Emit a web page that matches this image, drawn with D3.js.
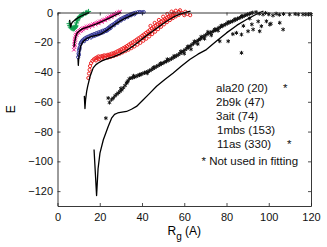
<!DOCTYPE html>
<html>
<head>
<meta charset="utf-8">
<script src="https://cdn.jsdelivr.net/npm/d3@7"></script>
<style>
  html, body { margin: 0; padding: 0; background: #fff; }
  svg { display: block; font-family: "Liberation Sans", Arial, sans-serif; }
</style>
</head>
<body>
<div id="chart"></div>
<script>
// [Rg, E] pairs

const ala20Pts = [[5.5,-7.5],[5.8,-8.8],[6.1,-9.8],[6.5,-10.4],[7.0,-10.8],[7.5,-11.0],[8.0,-10.8],[8.4,-10.0],
  [8.7,-8.6],[9.0,-7.0],[9.3,-5.6],[9.7,-4.2],[10.2,-3.2],[10.8,-2.4],[11.5,-1.7],[12.3,-1.1],[13.2,-0.4],
  [14.0,0.1],[14.7,0.7],[6.8,-10.2],[7.8,-10.2],[8.6,-9.4],[9.5,-5.0],[10.5,-2.9],[11.9,-1.5],[13.6,-0.2]];
const ala20Fit = [[5.7,-5.0],[6.0,-7.5],[6.25,-9.8],[6.5,-8.0],[7.0,-6.6],[8.0,-5.3],[9.5,-3.8],[11,-2.5],[13,-1.2],[15,0]];

const b9kPts = [[7.8,-25],[7.9,-23],[8.0,-21],[8.1,-19.5],[8.3,-17.5],[8.5,-16],[8.8,-14.8],[9.2,-13.8],[9.7,-13],
  [10.3,-12.2],[11,-11.6],[11.6,-11],[12.3,-10.5],[13,-10.2],[13.7,-9.6],[14.5,-9.3],[15.3,-8.8],[16.1,-8.5],
  [16.9,-7.9],[17.7,-7.6],[18.5,-7.0],[19.3,-6.6],[20.1,-6.0],[20.9,-5.7],[21.7,-5.1],[22.5,-4.6],[23.3,-3.9],
  [24.1,-3.3],[24.9,-2.6],[25.7,-2.0],[26.5,-1.4],[27.3,-0.8],[28.1,-0.3],[28.9,0.1],[29.6,0.5],
  [10.8,-12.5],[12,-11.4],[13.5,-10.6],[15,-9.8],[16.5,-9],[18,-8.1],[19.5,-7.3],[21,-6.3],[22.5,-5.3],
  [24,-4.2],[25.5,-3],[27,-1.8],[28.5,-0.8],[8.2,-22],[8.4,-18.5],[9,-15],[9.9,-13.6],[11.3,-12]];
const b9kFit = [[7.8,-23],[8.1,-20],[8.6,-16.5],[9.3,-13.8],[10.6,-12],[12,-10.8],[13.8,-10],[16,-8.9],
  [18.5,-7.6],[21.5,-5.7],[24.8,-3.6],[27.5,-1.7],[30,0]];

const aitPts = [[9.8,-30],[10.0,-27.5],[10.2,-25.5],[10.5,-23.5],[10.8,-21.5],[11.2,-20],[11.7,-19],[12.3,-18.2],
  [13,-17.4],[13.8,-16.7],[14.6,-16.2],[15.5,-15.6],[16.4,-15],[17.4,-14.5],[18.4,-13.9],[19.4,-13.4],
  [20.4,-12.9],[21.4,-12.3],[22.4,-11.8],[23.3,-11.2],[24.1,-10.3],[24.9,-9.4],[25.7,-8.6],[26.5,-7.9],
  [27.3,-7.1],[28.1,-6.2],[28.9,-5.4],[29.7,-4.6],[30.5,-4.0],[31.3,-3.4],[32.1,-2.9],[32.9,-2.4],[33.7,-1.8],
  [34.5,-1.3],[35.3,-0.9],[36.1,-0.5],[37,-0.2],[38,0.2],[39,0.3],[40,0.1],[40.8,0.3],
  [12.6,-19.3],[14,-17.8],[15.8,-16.8],[17.8,-15.5],[19.8,-14.4],[21.8,-13.2],[23.6,-12.0],[25.2,-10.3],
  [26.8,-8.6],[28.4,-7.0],[30,-5.4],[31.6,-4.2],[33.2,-3.1],[34.8,-1.9],[36.4,-1.2],
  [10.1,-28.5],[10.4,-24.5],[11,-20.8],[16.9,-15.9],[18.9,-14.9],[20.9,-13.7],[22.9,-12.4],[24.5,-11]];
const aitFit = [[9.7,-31],[9.85,-35.5],[10.1,-30],[10.5,-26],[11,-22.5],[11.9,-20],[13,-18.3],[14.5,-17],
  [16.2,-16.1],[18.5,-15.3],[20.5,-14.5],[22.5,-12.8],[24.8,-10.5],[27.2,-8],[29.6,-5.8],[32,-3.9],
  [34.3,-2.4],[36.5,-0.9],[38,0]];

const mbsPts = [[14.6,-44],[14.9,-41],[15.2,-38.5],[15.4,-36],[15.9,-34],[16.5,-32.5],[17.2,-31.5],[17.9,-30.8],
  [18.6,-30.2],[19.4,-29.5],[20.3,-29.6],[21.2,-29.2],[22.1,-28.8],[23.0,-28.9],[23.9,-28.4],[24.8,-28.2],
  [25.7,-27.6],[26.6,-27.3],[27.5,-26.7],[28.4,-26.0],[29.3,-25.4],[30.2,-24.7],[31.1,-24],[32,-23.3],
  [32.9,-22.5],[33.8,-21.6],[34.7,-20.8],[35.6,-20],[36.5,-19.2],[37.4,-18.3],[38.3,-17.4],[39.2,-16.6],
  [40.1,-15.6],[41,-14.7],[41.9,-13.7],[42.8,-12.8],[43.7,-11.8],[44.6,-10.8],[45.5,-9.8],[46.4,-8.8],
  [47.3,-7.9],[48.2,-7],[49.1,-6.1],[50,-5.2],[50.9,-4.4],[51.8,-3.6],[52.7,-2.8],[53.6,-2.1],[54.5,-1.5],
  [55.4,-0.8],
  [18.2,-32.2],[19.6,-31.4],[21,-31],[22.4,-30.6],[23.8,-30.3],[25.2,-29.8],[26.6,-29.2],[28,-28.5],
  [29.4,-27.7],[30.8,-26.8],[32.2,-25.9],[33.6,-25],[35,-23.9],[36.4,-22.8],[37.8,-21.6],[39.2,-20.4],
  [40.6,-19],[42,-17.6],[43.4,-16.1],[44.8,-14.5],[46.2,-12.9],[47.6,-11.2],[49,-9.6],[50.4,-8],[51.8,-6.5],
  [53.2,-5.1],[54.6,-3.8],[56,-2.6],[57.4,-1.6],
  [44,-9],[46,-7],[48,-5],[50,-2.8],[52,-1],[54,0.6],[56,1.2],[57.5,0.4],[59,-0.4],[60.5,0.5],[61.5,-1],
  [62.8,-1.8],[58,1.5],[55,-0.3],[60,-1.8],
  [19,-30.9],[21.6,-30.1],[24.3,-29.3],[27,-28],[29.8,-26.3],[32.6,-24.4],[35.3,-22.2],[38,-19.6],
  [40.8,-17.2],[43.5,-14.3],[46,-11.2],[48.6,-8.2],[51.2,-5.5],[53.8,-3.3]];
const mbsFit = [[12.7,-56],[13.0,-64.5],[13.3,-58.5],[13.8,-53],[14.3,-49.5],[15.4,-43],[16.9,-37.2],[18.2,-35],
  [19.3,-33.9],[21,-32.5],[22.5,-31.6],[24.5,-30.7],[26.4,-29.8],[29.5,-28],[32.7,-25.5],[36,-22.3],[39,-19],
  [42,-15.7],[45.3,-12.3],[48.5,-9],[51.6,-5.9],[55,-3],[58,-1.1],[61,0.2],[63,0.9]];

const asPts = [[22.9,-71],[24,-57.5],[24.6,-60.5],
  [25.6,-58.5],[26.4,-57.5],[27.2,-56],[28,-55],[28.8,-54],[29.6,-53],[30.4,-52],[31.2,-50.5],[32,-49],
  [32.7,-47.5],[33.4,-46],[34,-44.5],[34.8,-44],[35.6,-43.8],[36.4,-43.3],[37.2,-42.9],[38,-42.4],[38.8,-42],
  [39.6,-41.4],[40.4,-41],[41.2,-40.5],[42,-40.1],[42.8,-39.6],[43.6,-39.1],[44.4,-38.4],[45.2,-37.7],[46,-37],
  [46.8,-36.3],[47.6,-35.7],[48.4,-35.1],[49.2,-34.5],[50,-33.9],[50.8,-33.3],[51.6,-32.7],[52.4,-32.2],
  [53.2,-31.6],[54,-31],[54.8,-30.3],[55.6,-29.7],[56.4,-29],[57.2,-28.3],[58,-27.5],[58.8,-26.8],[59.6,-26],
  [60.4,-25],[61.2,-24.2],[62,-23.3],[62.8,-22.5],[63.6,-21.6],[64.4,-20.8],[65.2,-20],[66,-19.3],[66.8,-18.5],
  [67.6,-17.8],[68.4,-16.9],[69.2,-16.1],[70,-15.3],[70.8,-14.6],[71.6,-14],[72.4,-13.5],[73.2,-13],[74,-12.4],
  [74.8,-11.7],[75.6,-11],[76.4,-10.3],[77.2,-9.7],[78,-9.1],[78.8,-8.5],[79.6,-7.9],[80.4,-7.3],[81.2,-6.8],
  [82,-6.3],[82.8,-5.8],[83.6,-5.3],[84.4,-4.8],[85.2,-4.2],[86,-3.7],[86.8,-3.2],[87.6,-2.7],[88.4,-2.2],
  [89.2,-1.7],[90,-1.3],[90.8,-0.9],[91.6,-0.5],[92.4,-0.1],
  [30,-51],[33,-46.8],[36,-42.5],[39,-41.8],[42.5,-40.8],[45.5,-36.9],[48.8,-34.2],[52,-31.4],[55.2,-29.2],
  [58.4,-26.1],[61.6,-22.9],[64.8,-19.4],[68,-16.3],[71.2,-13],[74.4,-11.3],[77.6,-8.8],[80.8,-6.4],[84,-4.5],
  [87.2,-2.4],[60,-27.6],[63.2,-24.7],[66.4,-21.2],[69.6,-17.6],[72.8,-15.3],[76,-12.2],
  [94,0.3],[95.5,-0.8],[97.3,-1.3],[98.5,-0.3],[100,-1.2],[102,-2],[103.5,-0.8],[105,-1.5],[107,-1],
  [109.9,-1.3],[112.5,-1],[114,-1.3],[116.2,-1.3],[117.5,-1.3],[118.8,-1.3],[120,-1.3],
  [76.8,-19.3],[80.8,-19.3],[84.7,-13.7],[87.1,-14.8],[90.2,-12.6],[92.6,-11.4],[95.7,-12.6],[96.5,-9.2],
  [98.9,-5.9],[100.5,-8.1],[87.1,-27.1],[106.8,-11.4],[83,-14.5],[88,-9],[92,-8],[95,-6],[101,-7.5],
  [91,-4],[105.2,-6.9]];
const asFit = [[17.3,-92],[18.5,-123],[19.2,-105],[20.1,-94.5],[21.7,-85.5],[24,-76.6],[25.6,-71],[27,-68.5],
  [28.5,-67.5],[30.5,-67],[32.7,-66.5],[35,-65],[37.4,-63.1],[40.6,-58.6],[43.5,-54.5],[46.9,-49.6],
  [50.8,-45],[54.8,-40.6],[58.7,-36],[62.6,-31.6],[66.5,-28],[70.5,-24.9],[75,-19.5],[80,-13.7],[85,-8.5],
  [89.5,-4.7],[93,-2],[95.8,0],[97.5,1]];

const xTicks = [0, 20, 40, 60, 80, 100, 120];
const yTicks = [-120, -100, -80, -60, -40, -20, 0];
const legendLines = ["ala20 (20)", "2b9k (47)", "3ait (74)", "1mbs (153)", "11as (330)"];
const legendStar = [true, false, false, false, true];

const series = [
  { pts: ala20Pts, fit: ala20Fit, color: "#10a050", shape: d3.symbolPlus, size: 10 },
  { pts: b9kPts, fit: b9kFit, color: "#ec1a8c", shape: d3.symbolTimes, size: 10 },
  { pts: aitPts, fit: aitFit, color: "#2e3192", shape: d3.symbolCircle, size: 8 },
  { pts: mbsPts, fit: mbsFit, color: "#ee2424", shape: d3.symbolCircle, size: 8 },
  { pts: asPts, fit: asFit, color: "#111", shape: d3.symbolAsterisk, size: 11 }
];

const W = 327, H = 247;
const margin = { left: 57.5, right: 16, top: 12.5, bottom: 41 };

const svg = d3.select("#chart").append("svg")
  .attr("width", W).attr("height", H);

const x = d3.scaleLinear().domain([0, 120]).range([margin.left, W - margin.right]);
const y = d3.scaleLinear().domain([-130, 0]).range([H - margin.bottom, margin.top]);

// markers
series.forEach(s => {
  svg.append("g")
    .selectAll("path")
    .data(s.pts)
    .join("path")
    .attr("transform", d => `translate(${x(d[0])},${y(d[1])})`)
    .attr("d", d3.symbol(s.shape, s.size))
    .attr("fill", "none")
    .attr("stroke", s.color)
    .attr("stroke-width", 1);
});

// fitted curves
const line = d3.line().x(d => x(d[0])).y(d => y(d[1])).curve(d3.curveLinear);
series.forEach(s => {
  svg.append("path")
    .datum(s.fit)
    .attr("d", line)
    .attr("fill", "none")
    .attr("stroke", "#000")
    .attr("stroke-width", 1.3)
    .attr("stroke-linejoin", "round");
});

// axes box, ticks inside
const styleAxis = g => {
  g.select(".domain").attr("stroke", "#222").attr("stroke-width", 0.9);
  g.selectAll(".tick line").attr("stroke", "#222").attr("stroke-width", 0.8);
  g.selectAll("text").attr("font-size", 11).attr("fill", "#111")
    .attr("font-family", "'Liberation Sans', Arial, sans-serif");
};

svg.append("g")
  .attr("transform", `translate(0,${y(-130)})`)
  .call(d3.axisBottom(x).tickValues(xTicks).tickSize(-3).tickPadding(7).tickSizeOuter(0))
  .call(styleAxis);
svg.append("g")
  .attr("transform", `translate(0,${y(0)})`)
  .call(d3.axisTop(x).tickValues(xTicks).tickSize(-3).tickSizeOuter(0).tickFormat(""))
  .call(styleAxis);
svg.append("g")
  .attr("transform", `translate(${x(0)},0)`)
  .call(d3.axisLeft(y).tickValues(yTicks).tickSize(-3).tickPadding(4.5).tickSizeOuter(0)
    .tickFormat(d => d < 0 ? "\u2212" + Math.abs(d) : d))
  .call(styleAxis);
svg.append("g")
  .attr("transform", `translate(${x(120)},0)`)
  .call(d3.axisRight(y).tickValues(yTicks).tickSize(-3).tickSizeOuter(0).tickFormat(""))
  .call(styleAxis);

// axis titles
svg.append("text")
  .attr("transform", `translate(15,${(y(0) + y(-130)) / 2}) rotate(-90)`)
  .attr("text-anchor", "middle")
  .attr("font-size", 12)
  .text("E");

const xl = svg.append("text")
  .attr("x", (x(0) + x(120)) / 2)
  .attr("y", 235)
  .attr("text-anchor", "middle")
  .attr("font-size", 12);
xl.append("tspan").text("R");
xl.append("tspan").attr("dy", 5).attr("font-size", 10).text("g");
xl.append("tspan").attr("dy", -5).text(" (A)");

// legend text
const leg = svg.append("g").attr("font-size", 11.5).attr("fill", "#111");
legendLines.forEach((t, i) => {
  leg.append("text")
    .attr("x", i < 3 ? 216 : 217)
    .attr("y", 92 + i * 14.1)
    .text(t);
  if (legendStar[i]) {
    leg.append("text")
      .attr("x", i === 0 ? 283 : 287)
      .attr("y", 92 + i * 14.1)
      .text("*");
  }
});
leg.append("text")
  .attr("x", 201.5)
  .attr("y", 165)
  .text("* Not used in fitting");
</script>
</body>
</html>
